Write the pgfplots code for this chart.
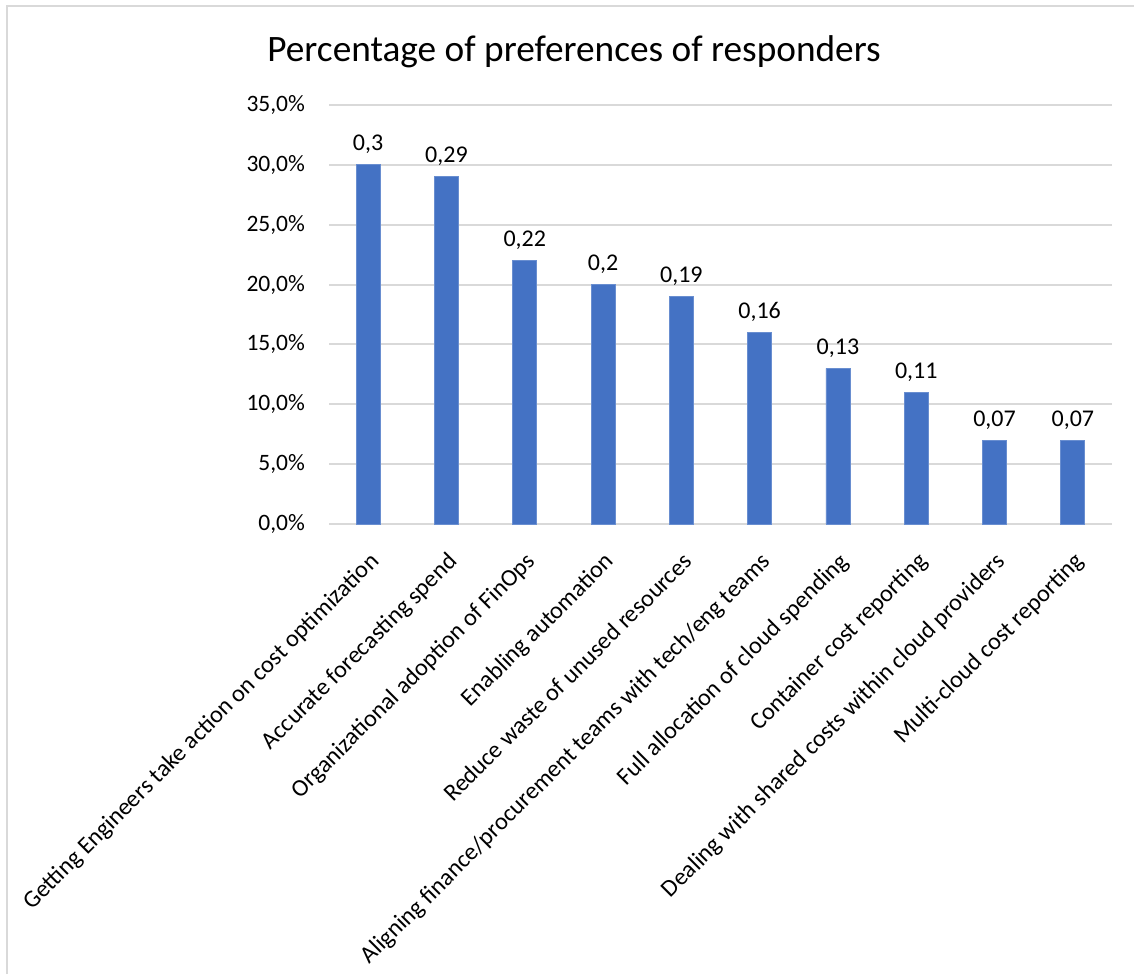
\documentclass[border=0pt]{standalone}
\usepackage{pgfplots}
\pgfplotsset{compat=1.18}
\usepackage{fontspec}
\setmainfont{Carlito}
\definecolor{barblue}{HTML}{4472C4}
\definecolor{gridgray}{HTML}{D9D9D9}
\begin{document}
\begin{tikzpicture}[x=0.5pt,y=0.5pt]
\useasboundingbox (0,0) rectangle (1134,974);
\draw[gridgray,line width=1.2pt] (7,0) -- (7,968) -- (1134,968);
\node[font=\fontsize{18.65}{22}\selectfont] at (574,922) {Percentage of preferences of responders};
\begin{axis}[
  at={(164.5pt,225pt)}, anchor=south west,
  scale only axis, width=391.5pt, height=209.5pt,
  xmin=-0.5, xmax=9.5, ymin=0, ymax=35,
  axis line style={draw=none},
  axis x line*=bottom,
  ytick={0,5,...,35},
  yticklabels={{0,0\%},{5,0\%},{10,0\%},{15,0\%},{20,0\%},{25,0\%},{30,0\%},{35,0\%}},
  ymajorgrids, grid style={gridgray,line width=1pt},
  major tick length=0pt,
  xtick={0,...,9},
  xticklabels={Getting Engineers take action on cost optimization,Accurate forecasting spend,Organizational adoption of FinOps,Enabling automation,Reduce waste of unused resources,Aligning finance/procurement teams with tech/eng teams,Full allocation of cloud spending,Container cost reporting,Dealing with shared costs within cloud providers,Multi-cloud cost reporting},
  x tick label style={rotate=45, anchor=north east, xshift=-6pt, yshift=-6pt, font=\fontsize{12.1}{15}\selectfont},
  y tick label style={xshift=-8.5pt, font=\fontsize{11.75}{14}\selectfont},
  /pgf/number format/assume math mode=true,
  clip=false,
]
\addplot[ybar, bar width=12pt, fill=barblue, draw=barblue!80!white, line width=0.4pt,
  nodes near coords, point meta=explicit symbolic,
  every node near coord/.style={font=\fontsize{12}{14}\selectfont, text=black, yshift=2pt}]
  table[meta=lab] {
x y lab
0 30 0,3
1 29 0,29
2 22 0,22
3 20 0,2
4 19 0,19
5 16 0,16
6 13 0,13
7 11 0,11
8 7 0,07
9 7 0,07
};
\end{axis}
\end{tikzpicture}
\end{document}
